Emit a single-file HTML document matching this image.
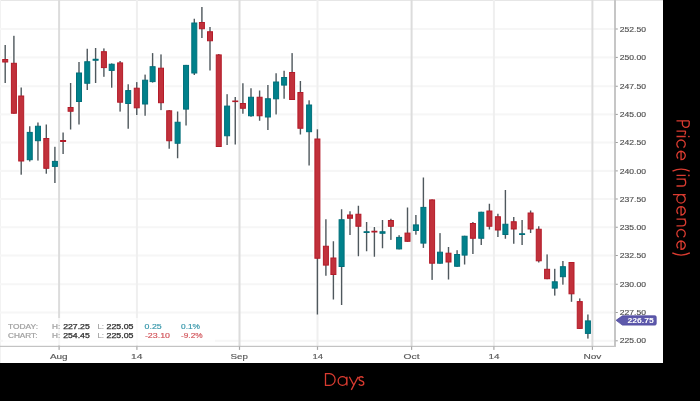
<!DOCTYPE html><html><head><meta charset="utf-8"><style>html,body{margin:0;padding:0;background:#000;width:700px;height:401px;overflow:hidden}svg{display:block;will-change:transform;font-family:"Liberation Sans",sans-serif}</style></head><body>
<svg width="700" height="401" viewBox="0 0 700 401">
<rect x="0" y="0" width="700" height="401" fill="#000"/>
<rect x="0" y="0" width="663" height="363" fill="#fff"/>
<rect x="0" y="0" width="663" height="1" fill="#e6e6e6"/>
<rect x="0" y="0" width="1" height="363" fill="#f2f2f2"/>
<rect x="0" y="339.80" width="614" height="2" fill="#f6f6f6"/>
<rect x="0" y="311.50" width="614" height="2" fill="#f6f6f6"/>
<rect x="0" y="283.25" width="614" height="2" fill="#f6f6f6"/>
<rect x="0" y="254.50" width="614" height="2" fill="#f6f6f6"/>
<rect x="0" y="226.25" width="614" height="2" fill="#f6f6f6"/>
<rect x="0" y="198.00" width="614" height="2" fill="#f6f6f6"/>
<rect x="0" y="169.90" width="614" height="2" fill="#f6f6f6"/>
<rect x="0" y="141.50" width="614" height="2" fill="#f6f6f6"/>
<rect x="0" y="113.40" width="614" height="2" fill="#f6f6f6"/>
<rect x="0" y="85.25" width="614" height="2" fill="#f6f6f6"/>
<rect x="0" y="56.40" width="614" height="2" fill="#f6f6f6"/>
<rect x="0" y="28.00" width="614" height="2" fill="#f6f6f6"/>
<rect x="3.50" y="44.00" width="3.4" height="40.00" fill="#fff"/>
<rect x="1.20" y="58.00" width="8.00" height="5.50" fill="#fff"/>
<rect x="12.20" y="34.80" width="3.4" height="79.95" fill="#fff"/>
<rect x="9.90" y="61.80" width="8.00" height="52.95" fill="#fff"/>
<rect x="19.50" y="86.50" width="3.4" height="89.20" fill="#fff"/>
<rect x="17.20" y="94.50" width="8.00" height="68.00" fill="#fff"/>
<rect x="28.05" y="125.25" width="3.4" height="37.25" fill="#fff"/>
<rect x="25.75" y="130.90" width="8.00" height="30.30" fill="#fff"/>
<rect x="36.25" y="121.50" width="3.4" height="40.10" fill="#fff"/>
<rect x="33.95" y="124.75" width="8.00" height="17.45" fill="#fff"/>
<rect x="44.60" y="123.50" width="3.4" height="51.20" fill="#fff"/>
<rect x="42.30" y="137.00" width="8.00" height="32.80" fill="#fff"/>
<rect x="53.20" y="145.80" width="3.4" height="38.20" fill="#fff"/>
<rect x="50.90" y="159.90" width="8.00" height="8.00" fill="#fff"/>
<rect x="61.40" y="131.50" width="3.4" height="23.50" fill="#fff"/>
<rect x="59.10" y="139.00" width="8.00" height="4.00" fill="#fff"/>
<rect x="68.90" y="82.00" width="3.4" height="48.50" fill="#fff"/>
<rect x="66.60" y="106.00" width="8.00" height="6.75" fill="#fff"/>
<rect x="77.30" y="61.00" width="3.4" height="64.50" fill="#fff"/>
<rect x="75.00" y="71.50" width="8.00" height="31.50" fill="#fff"/>
<rect x="85.55" y="47.75" width="3.4" height="43.25" fill="#fff"/>
<rect x="83.25" y="60.25" width="8.00" height="24.50" fill="#fff"/>
<rect x="93.90" y="47.00" width="3.4" height="37.00" fill="#fff"/>
<rect x="91.60" y="57.75" width="8.00" height="4.00" fill="#fff"/>
<rect x="102.20" y="47.40" width="3.4" height="30.40" fill="#fff"/>
<rect x="99.90" y="50.20" width="8.00" height="18.90" fill="#fff"/>
<rect x="110.00" y="62.40" width="3.4" height="26.30" fill="#fff"/>
<rect x="107.70" y="62.75" width="8.00" height="9.15" fill="#fff"/>
<rect x="118.40" y="60.00" width="3.4" height="52.60" fill="#fff"/>
<rect x="116.10" y="61.40" width="8.00" height="42.30" fill="#fff"/>
<rect x="126.50" y="83.30" width="3.4" height="46.45" fill="#fff"/>
<rect x="124.20" y="89.10" width="8.00" height="15.90" fill="#fff"/>
<rect x="135.05" y="81.10" width="3.4" height="34.90" fill="#fff"/>
<rect x="132.75" y="86.70" width="8.00" height="22.60" fill="#fff"/>
<rect x="143.40" y="73.60" width="3.4" height="43.15" fill="#fff"/>
<rect x="141.10" y="78.70" width="8.00" height="26.80" fill="#fff"/>
<rect x="150.90" y="52.10" width="3.4" height="31.50" fill="#fff"/>
<rect x="148.60" y="65.20" width="8.00" height="17.90" fill="#fff"/>
<rect x="159.30" y="53.40" width="3.4" height="57.70" fill="#fff"/>
<rect x="157.00" y="66.70" width="8.00" height="37.50" fill="#fff"/>
<rect x="167.50" y="109.00" width="3.4" height="40.75" fill="#fff"/>
<rect x="165.20" y="109.30" width="8.00" height="32.95" fill="#fff"/>
<rect x="175.90" y="110.50" width="3.4" height="48.75" fill="#fff"/>
<rect x="173.60" y="120.75" width="8.00" height="24.00" fill="#fff"/>
<rect x="184.35" y="63.90" width="3.4" height="62.60" fill="#fff"/>
<rect x="182.05" y="63.90" width="8.00" height="46.70" fill="#fff"/>
<rect x="192.60" y="17.75" width="3.4" height="58.25" fill="#fff"/>
<rect x="190.30" y="21.50" width="8.00" height="53.00" fill="#fff"/>
<rect x="200.20" y="6.00" width="3.4" height="33.00" fill="#fff"/>
<rect x="197.90" y="21.00" width="8.00" height="9.25" fill="#fff"/>
<rect x="208.30" y="26.00" width="3.4" height="45.50" fill="#fff"/>
<rect x="206.00" y="30.25" width="8.00" height="12.00" fill="#fff"/>
<rect x="217.05" y="53.00" width="3.4" height="95.00" fill="#fff"/>
<rect x="214.75" y="53.40" width="8.00" height="94.60" fill="#fff"/>
<rect x="225.40" y="93.20" width="3.4" height="52.80" fill="#fff"/>
<rect x="223.10" y="104.60" width="8.00" height="32.65" fill="#fff"/>
<rect x="233.55" y="96.00" width="3.4" height="49.50" fill="#fff"/>
<rect x="231.25" y="99.50" width="8.00" height="3.60" fill="#fff"/>
<rect x="241.20" y="82.25" width="3.4" height="32.50" fill="#fff"/>
<rect x="238.90" y="102.00" width="8.00" height="7.75" fill="#fff"/>
<rect x="249.30" y="87.25" width="3.4" height="30.50" fill="#fff"/>
<rect x="247.00" y="95.75" width="8.00" height="21.50" fill="#fff"/>
<rect x="257.90" y="89.50" width="3.4" height="32.25" fill="#fff"/>
<rect x="255.60" y="95.75" width="8.00" height="21.50" fill="#fff"/>
<rect x="266.20" y="84.00" width="3.4" height="47.00" fill="#fff"/>
<rect x="263.90" y="97.25" width="8.00" height="21.25" fill="#fff"/>
<rect x="274.40" y="72.25" width="3.4" height="43.25" fill="#fff"/>
<rect x="272.10" y="80.50" width="8.00" height="19.80" fill="#fff"/>
<rect x="282.40" y="69.75" width="3.4" height="30.00" fill="#fff"/>
<rect x="280.10" y="76.00" width="8.00" height="10.60" fill="#fff"/>
<rect x="290.40" y="52.10" width="3.4" height="48.90" fill="#fff"/>
<rect x="288.10" y="71.00" width="8.00" height="30.00" fill="#fff"/>
<rect x="298.70" y="80.00" width="3.4" height="55.50" fill="#fff"/>
<rect x="296.40" y="91.00" width="8.00" height="38.75" fill="#fff"/>
<rect x="307.40" y="99.30" width="3.4" height="67.20" fill="#fff"/>
<rect x="305.10" y="103.50" width="8.00" height="29.70" fill="#fff"/>
<rect x="315.70" y="128.30" width="3.4" height="187.20" fill="#fff"/>
<rect x="313.40" y="137.50" width="8.00" height="122.25" fill="#fff"/>
<rect x="324.20" y="218.25" width="3.4" height="58.50" fill="#fff"/>
<rect x="321.90" y="244.75" width="8.00" height="21.85" fill="#fff"/>
<rect x="331.70" y="240.25" width="3.4" height="60.25" fill="#fff"/>
<rect x="329.40" y="256.50" width="8.00" height="19.50" fill="#fff"/>
<rect x="339.90" y="208.25" width="3.4" height="97.75" fill="#fff"/>
<rect x="337.60" y="218.25" width="8.00" height="49.75" fill="#fff"/>
<rect x="348.30" y="210.25" width="3.4" height="25.75" fill="#fff"/>
<rect x="346.00" y="213.50" width="8.00" height="6.25" fill="#fff"/>
<rect x="356.70" y="204.75" width="3.4" height="52.50" fill="#fff"/>
<rect x="354.40" y="212.75" width="8.00" height="15.00" fill="#fff"/>
<rect x="364.90" y="221.00" width="3.4" height="31.25" fill="#fff"/>
<rect x="362.60" y="230.25" width="8.00" height="3.75" fill="#fff"/>
<rect x="372.70" y="226.00" width="3.4" height="31.75" fill="#fff"/>
<rect x="370.40" y="229.75" width="8.00" height="3.75" fill="#fff"/>
<rect x="380.80" y="219.00" width="3.4" height="30.25" fill="#fff"/>
<rect x="378.50" y="230.25" width="8.00" height="4.50" fill="#fff"/>
<rect x="389.20" y="217.75" width="3.4" height="23.15" fill="#fff"/>
<rect x="386.90" y="219.00" width="8.00" height="8.80" fill="#fff"/>
<rect x="397.40" y="234.20" width="3.4" height="16.20" fill="#fff"/>
<rect x="395.10" y="235.90" width="8.00" height="14.50" fill="#fff"/>
<rect x="405.80" y="206.50" width="3.4" height="36.30" fill="#fff"/>
<rect x="403.50" y="231.60" width="8.00" height="11.20" fill="#fff"/>
<rect x="414.20" y="214.00" width="3.4" height="21.70" fill="#fff"/>
<rect x="411.90" y="223.40" width="8.00" height="8.60" fill="#fff"/>
<rect x="421.70" y="176.50" width="3.4" height="72.40" fill="#fff"/>
<rect x="419.40" y="205.90" width="8.00" height="38.70" fill="#fff"/>
<rect x="430.40" y="198.40" width="3.4" height="82.50" fill="#fff"/>
<rect x="428.10" y="198.40" width="8.00" height="66.30" fill="#fff"/>
<rect x="438.30" y="232.10" width="3.4" height="32.60" fill="#fff"/>
<rect x="436.00" y="250.70" width="8.00" height="14.00" fill="#fff"/>
<rect x="446.80" y="246.00" width="3.4" height="34.50" fill="#fff"/>
<rect x="444.50" y="251.70" width="8.00" height="11.80" fill="#fff"/>
<rect x="455.40" y="249.20" width="3.4" height="18.55" fill="#fff"/>
<rect x="453.10" y="253.00" width="8.00" height="14.75" fill="#fff"/>
<rect x="462.90" y="234.75" width="3.4" height="30.75" fill="#fff"/>
<rect x="460.60" y="234.75" width="8.00" height="21.85" fill="#fff"/>
<rect x="471.20" y="221.00" width="3.4" height="34.00" fill="#fff"/>
<rect x="468.90" y="222.00" width="8.00" height="17.75" fill="#fff"/>
<rect x="479.55" y="210.75" width="3.4" height="35.25" fill="#fff"/>
<rect x="477.25" y="210.75" width="8.00" height="29.00" fill="#fff"/>
<rect x="487.70" y="202.75" width="3.4" height="27.75" fill="#fff"/>
<rect x="485.40" y="209.50" width="8.00" height="18.25" fill="#fff"/>
<rect x="496.20" y="212.75" width="3.4" height="25.25" fill="#fff"/>
<rect x="493.90" y="215.25" width="8.00" height="16.25" fill="#fff"/>
<rect x="503.70" y="189.00" width="3.4" height="50.75" fill="#fff"/>
<rect x="501.40" y="222.75" width="8.00" height="13.25" fill="#fff"/>
<rect x="512.05" y="216.00" width="3.4" height="28.75" fill="#fff"/>
<rect x="509.75" y="220.25" width="8.00" height="10.25" fill="#fff"/>
<rect x="520.40" y="219.00" width="3.4" height="27.00" fill="#fff"/>
<rect x="518.10" y="232.25" width="8.00" height="3.75" fill="#fff"/>
<rect x="528.90" y="209.50" width="3.4" height="24.50" fill="#fff"/>
<rect x="526.60" y="211.50" width="8.00" height="19.00" fill="#fff"/>
<rect x="537.05" y="225.25" width="3.4" height="38.25" fill="#fff"/>
<rect x="534.75" y="227.75" width="8.00" height="34.55" fill="#fff"/>
<rect x="545.40" y="253.40" width="3.4" height="26.80" fill="#fff"/>
<rect x="543.10" y="267.80" width="8.00" height="12.40" fill="#fff"/>
<rect x="553.05" y="267.80" width="3.4" height="28.80" fill="#fff"/>
<rect x="550.75" y="280.30" width="8.00" height="9.30" fill="#fff"/>
<rect x="561.20" y="260.00" width="3.4" height="25.70" fill="#fff"/>
<rect x="558.90" y="265.20" width="8.00" height="13.00" fill="#fff"/>
<rect x="569.80" y="261.00" width="3.4" height="41.80" fill="#fff"/>
<rect x="567.50" y="261.00" width="8.00" height="34.30" fill="#fff"/>
<rect x="578.05" y="297.40" width="3.4" height="32.50" fill="#fff"/>
<rect x="575.75" y="300.10" width="8.00" height="29.80" fill="#fff"/>
<rect x="586.20" y="313.50" width="3.4" height="26.10" fill="#fff"/>
<rect x="583.90" y="319.40" width="8.00" height="15.50" fill="#fff"/>
<rect x="58.10" y="0" width="2" height="346" fill="#dcdcdc"/>
<rect x="135.90" y="0" width="2" height="346" fill="#efefef"/>
<rect x="238.50" y="0" width="2" height="346" fill="#dcdcdc"/>
<rect x="316.50" y="0" width="2" height="346" fill="#efefef"/>
<rect x="410.60" y="0" width="2" height="346" fill="#dcdcdc"/>
<rect x="492.90" y="0" width="2" height="346" fill="#efefef"/>
<rect x="591.40" y="0" width="2" height="346" fill="#dcdcdc"/>
<rect x="3" y="318" width="212" height="27" fill="#fff" fill-opacity="0.75"/>
<rect x="0" y="345.8" width="615.6" height="1.1" fill="#bdbdbd"/>
<rect x="614" y="0" width="2" height="346.9" fill="#c6c6c6"/>
<rect x="58.50" y="346.5" width="1.2" height="3.4" fill="#a9a9a9"/>
<rect x="136.30" y="346.5" width="1.2" height="3.4" fill="#a9a9a9"/>
<rect x="238.90" y="346.5" width="1.2" height="3.4" fill="#a9a9a9"/>
<rect x="316.90" y="346.5" width="1.2" height="3.4" fill="#a9a9a9"/>
<rect x="411.00" y="346.5" width="1.2" height="3.4" fill="#a9a9a9"/>
<rect x="493.30" y="346.5" width="1.2" height="3.4" fill="#a9a9a9"/>
<rect x="591.80" y="346.5" width="1.2" height="3.4" fill="#a9a9a9"/>
<rect x="4.50" y="45.00" width="1.4" height="38.00" fill="#4f585d"/>
<rect x="2.70" y="59.50" width="5.00" height="2.50" fill="#c1313b" stroke="#b31b29" stroke-width="1"/>
<rect x="13.20" y="35.80" width="1.4" height="77.95" fill="#4f585d"/>
<rect x="11.40" y="63.30" width="5.00" height="49.95" fill="#c1313b" stroke="#b31b29" stroke-width="1"/>
<rect x="20.50" y="87.50" width="1.4" height="87.20" fill="#4f585d"/>
<rect x="18.70" y="96.00" width="5.00" height="65.00" fill="#c1313b" stroke="#b31b29" stroke-width="1"/>
<rect x="29.05" y="126.25" width="1.4" height="35.25" fill="#4f585d"/>
<rect x="27.25" y="132.40" width="5.00" height="27.30" fill="#00818b" stroke="#006f7a" stroke-width="1"/>
<rect x="37.25" y="122.50" width="1.4" height="38.10" fill="#4f585d"/>
<rect x="35.45" y="126.25" width="5.00" height="14.45" fill="#00818b" stroke="#006f7a" stroke-width="1"/>
<rect x="45.60" y="124.50" width="1.4" height="49.20" fill="#4f585d"/>
<rect x="43.80" y="138.50" width="5.00" height="29.80" fill="#c1313b" stroke="#b31b29" stroke-width="1"/>
<rect x="54.20" y="146.80" width="1.4" height="36.20" fill="#4f585d"/>
<rect x="52.40" y="161.40" width="5.00" height="5.00" fill="#00818b" stroke="#006f7a" stroke-width="1"/>
<rect x="62.40" y="132.50" width="1.4" height="21.50" fill="#4f585d"/>
<rect x="60.60" y="140.50" width="5.00" height="1.00" fill="#c1313b" stroke="#b31b29" stroke-width="1"/>
<rect x="69.90" y="83.00" width="1.4" height="46.50" fill="#4f585d"/>
<rect x="68.10" y="107.50" width="5.00" height="3.75" fill="#c1313b" stroke="#b31b29" stroke-width="1"/>
<rect x="78.30" y="62.00" width="1.4" height="62.50" fill="#4f585d"/>
<rect x="76.50" y="73.00" width="5.00" height="28.50" fill="#00818b" stroke="#006f7a" stroke-width="1"/>
<rect x="86.55" y="48.75" width="1.4" height="41.25" fill="#4f585d"/>
<rect x="84.75" y="61.75" width="5.00" height="21.50" fill="#00818b" stroke="#006f7a" stroke-width="1"/>
<rect x="94.90" y="48.00" width="1.4" height="35.00" fill="#4f585d"/>
<rect x="93.10" y="59.25" width="5.00" height="1.00" fill="#00818b" stroke="#006f7a" stroke-width="1"/>
<rect x="103.20" y="48.40" width="1.4" height="28.40" fill="#4f585d"/>
<rect x="101.40" y="51.70" width="5.00" height="15.90" fill="#c1313b" stroke="#b31b29" stroke-width="1"/>
<rect x="111.00" y="63.40" width="1.4" height="24.30" fill="#4f585d"/>
<rect x="109.20" y="64.25" width="5.00" height="6.15" fill="#00818b" stroke="#006f7a" stroke-width="1"/>
<rect x="119.40" y="61.00" width="1.4" height="50.60" fill="#4f585d"/>
<rect x="117.60" y="62.90" width="5.00" height="39.30" fill="#c1313b" stroke="#b31b29" stroke-width="1"/>
<rect x="127.50" y="84.30" width="1.4" height="44.45" fill="#4f585d"/>
<rect x="125.70" y="90.60" width="5.00" height="12.90" fill="#00818b" stroke="#006f7a" stroke-width="1"/>
<rect x="136.05" y="82.10" width="1.4" height="32.90" fill="#4f585d"/>
<rect x="134.25" y="88.20" width="5.00" height="19.60" fill="#c1313b" stroke="#b31b29" stroke-width="1"/>
<rect x="144.40" y="74.60" width="1.4" height="41.15" fill="#4f585d"/>
<rect x="142.60" y="80.20" width="5.00" height="23.80" fill="#00818b" stroke="#006f7a" stroke-width="1"/>
<rect x="151.90" y="53.10" width="1.4" height="29.50" fill="#4f585d"/>
<rect x="150.10" y="66.70" width="5.00" height="14.90" fill="#00818b" stroke="#006f7a" stroke-width="1"/>
<rect x="160.30" y="54.40" width="1.4" height="55.70" fill="#4f585d"/>
<rect x="158.50" y="68.20" width="5.00" height="34.50" fill="#c1313b" stroke="#b31b29" stroke-width="1"/>
<rect x="168.50" y="110.00" width="1.4" height="38.75" fill="#4f585d"/>
<rect x="166.70" y="110.80" width="5.00" height="29.95" fill="#c1313b" stroke="#b31b29" stroke-width="1"/>
<rect x="176.90" y="111.50" width="1.4" height="46.75" fill="#4f585d"/>
<rect x="175.10" y="122.25" width="5.00" height="21.00" fill="#00818b" stroke="#006f7a" stroke-width="1"/>
<rect x="185.35" y="64.90" width="1.4" height="60.60" fill="#4f585d"/>
<rect x="183.55" y="65.40" width="5.00" height="43.70" fill="#00818b" stroke="#006f7a" stroke-width="1"/>
<rect x="193.60" y="18.75" width="1.4" height="56.25" fill="#4f585d"/>
<rect x="191.80" y="23.00" width="5.00" height="50.00" fill="#00818b" stroke="#006f7a" stroke-width="1"/>
<rect x="201.20" y="7.00" width="1.4" height="31.00" fill="#4f585d"/>
<rect x="199.40" y="22.50" width="5.00" height="6.25" fill="#c1313b" stroke="#b31b29" stroke-width="1"/>
<rect x="209.30" y="27.00" width="1.4" height="43.50" fill="#4f585d"/>
<rect x="207.50" y="31.75" width="5.00" height="9.00" fill="#c1313b" stroke="#b31b29" stroke-width="1"/>
<rect x="218.05" y="54.00" width="1.4" height="93.00" fill="#4f585d"/>
<rect x="216.25" y="54.90" width="5.00" height="91.60" fill="#c1313b" stroke="#b31b29" stroke-width="1"/>
<rect x="226.40" y="94.20" width="1.4" height="50.80" fill="#4f585d"/>
<rect x="224.60" y="106.10" width="5.00" height="29.65" fill="#00818b" stroke="#006f7a" stroke-width="1"/>
<rect x="234.55" y="97.00" width="1.4" height="47.50" fill="#4f585d"/>
<rect x="232.75" y="101.00" width="5.00" height="0.60" fill="#c1313b" stroke="#b31b29" stroke-width="1"/>
<rect x="242.20" y="83.25" width="1.4" height="30.50" fill="#4f585d"/>
<rect x="240.40" y="103.50" width="5.00" height="4.75" fill="#c1313b" stroke="#b31b29" stroke-width="1"/>
<rect x="250.30" y="88.25" width="1.4" height="28.50" fill="#4f585d"/>
<rect x="248.50" y="97.25" width="5.00" height="18.50" fill="#00818b" stroke="#006f7a" stroke-width="1"/>
<rect x="258.90" y="90.50" width="1.4" height="30.25" fill="#4f585d"/>
<rect x="257.10" y="97.25" width="5.00" height="18.50" fill="#c1313b" stroke="#b31b29" stroke-width="1"/>
<rect x="267.20" y="85.00" width="1.4" height="45.00" fill="#4f585d"/>
<rect x="265.40" y="98.75" width="5.00" height="18.25" fill="#00818b" stroke="#006f7a" stroke-width="1"/>
<rect x="275.40" y="73.25" width="1.4" height="41.25" fill="#4f585d"/>
<rect x="273.60" y="82.00" width="5.00" height="16.80" fill="#00818b" stroke="#006f7a" stroke-width="1"/>
<rect x="283.40" y="70.75" width="1.4" height="28.00" fill="#4f585d"/>
<rect x="281.60" y="77.50" width="5.00" height="7.60" fill="#00818b" stroke="#006f7a" stroke-width="1"/>
<rect x="291.40" y="53.10" width="1.4" height="46.90" fill="#4f585d"/>
<rect x="289.60" y="72.50" width="5.00" height="27.00" fill="#c1313b" stroke="#b31b29" stroke-width="1"/>
<rect x="299.70" y="81.00" width="1.4" height="53.50" fill="#4f585d"/>
<rect x="297.90" y="92.50" width="5.00" height="35.75" fill="#c1313b" stroke="#b31b29" stroke-width="1"/>
<rect x="308.40" y="100.30" width="1.4" height="65.20" fill="#4f585d"/>
<rect x="306.60" y="105.00" width="5.00" height="26.70" fill="#00818b" stroke="#006f7a" stroke-width="1"/>
<rect x="316.70" y="129.30" width="1.4" height="185.20" fill="#4f585d"/>
<rect x="314.90" y="139.00" width="5.00" height="119.25" fill="#c1313b" stroke="#b31b29" stroke-width="1"/>
<rect x="325.20" y="219.25" width="1.4" height="56.50" fill="#4f585d"/>
<rect x="323.40" y="246.25" width="5.00" height="18.85" fill="#c1313b" stroke="#b31b29" stroke-width="1"/>
<rect x="332.70" y="241.25" width="1.4" height="58.25" fill="#4f585d"/>
<rect x="330.90" y="258.00" width="5.00" height="16.50" fill="#c1313b" stroke="#b31b29" stroke-width="1"/>
<rect x="340.90" y="209.25" width="1.4" height="95.75" fill="#4f585d"/>
<rect x="339.10" y="219.75" width="5.00" height="46.75" fill="#00818b" stroke="#006f7a" stroke-width="1"/>
<rect x="349.30" y="211.25" width="1.4" height="23.75" fill="#4f585d"/>
<rect x="347.50" y="215.00" width="5.00" height="3.25" fill="#c1313b" stroke="#b31b29" stroke-width="1"/>
<rect x="357.70" y="205.75" width="1.4" height="50.50" fill="#4f585d"/>
<rect x="355.90" y="214.25" width="5.00" height="12.00" fill="#c1313b" stroke="#b31b29" stroke-width="1"/>
<rect x="365.90" y="222.00" width="1.4" height="29.25" fill="#4f585d"/>
<rect x="364.10" y="231.75" width="5.00" height="0.75" fill="#00818b" stroke="#006f7a" stroke-width="1"/>
<rect x="373.70" y="227.00" width="1.4" height="29.75" fill="#4f585d"/>
<rect x="371.90" y="231.25" width="5.00" height="0.75" fill="#c1313b" stroke="#b31b29" stroke-width="1"/>
<rect x="381.80" y="220.00" width="1.4" height="28.25" fill="#4f585d"/>
<rect x="380.00" y="231.75" width="5.00" height="1.50" fill="#00818b" stroke="#006f7a" stroke-width="1"/>
<rect x="390.20" y="218.75" width="1.4" height="21.15" fill="#4f585d"/>
<rect x="388.40" y="220.50" width="5.00" height="5.80" fill="#c1313b" stroke="#b31b29" stroke-width="1"/>
<rect x="398.40" y="235.20" width="1.4" height="14.20" fill="#4f585d"/>
<rect x="396.60" y="237.40" width="5.00" height="11.50" fill="#00818b" stroke="#006f7a" stroke-width="1"/>
<rect x="406.80" y="207.50" width="1.4" height="34.30" fill="#4f585d"/>
<rect x="405.00" y="233.10" width="5.00" height="8.20" fill="#c1313b" stroke="#b31b29" stroke-width="1"/>
<rect x="415.20" y="215.00" width="1.4" height="19.70" fill="#4f585d"/>
<rect x="413.40" y="224.90" width="5.00" height="5.60" fill="#00818b" stroke="#006f7a" stroke-width="1"/>
<rect x="422.70" y="177.50" width="1.4" height="70.40" fill="#4f585d"/>
<rect x="420.90" y="207.40" width="5.00" height="35.70" fill="#00818b" stroke="#006f7a" stroke-width="1"/>
<rect x="431.40" y="199.40" width="1.4" height="80.50" fill="#4f585d"/>
<rect x="429.60" y="199.90" width="5.00" height="63.30" fill="#c1313b" stroke="#b31b29" stroke-width="1"/>
<rect x="439.30" y="233.10" width="1.4" height="30.60" fill="#4f585d"/>
<rect x="437.50" y="252.20" width="5.00" height="11.00" fill="#00818b" stroke="#006f7a" stroke-width="1"/>
<rect x="447.80" y="247.00" width="1.4" height="32.50" fill="#4f585d"/>
<rect x="446.00" y="253.20" width="5.00" height="8.80" fill="#c1313b" stroke="#b31b29" stroke-width="1"/>
<rect x="456.40" y="250.20" width="1.4" height="16.55" fill="#4f585d"/>
<rect x="454.60" y="254.50" width="5.00" height="11.75" fill="#00818b" stroke="#006f7a" stroke-width="1"/>
<rect x="463.90" y="235.75" width="1.4" height="28.75" fill="#4f585d"/>
<rect x="462.10" y="236.25" width="5.00" height="18.85" fill="#00818b" stroke="#006f7a" stroke-width="1"/>
<rect x="472.20" y="222.00" width="1.4" height="32.00" fill="#4f585d"/>
<rect x="470.40" y="223.50" width="5.00" height="14.75" fill="#c1313b" stroke="#b31b29" stroke-width="1"/>
<rect x="480.55" y="211.75" width="1.4" height="33.25" fill="#4f585d"/>
<rect x="478.75" y="212.25" width="5.00" height="26.00" fill="#00818b" stroke="#006f7a" stroke-width="1"/>
<rect x="488.70" y="203.75" width="1.4" height="25.75" fill="#4f585d"/>
<rect x="486.90" y="211.00" width="5.00" height="15.25" fill="#c1313b" stroke="#b31b29" stroke-width="1"/>
<rect x="497.20" y="213.75" width="1.4" height="23.25" fill="#4f585d"/>
<rect x="495.40" y="216.75" width="5.00" height="13.25" fill="#c1313b" stroke="#b31b29" stroke-width="1"/>
<rect x="504.70" y="190.00" width="1.4" height="48.75" fill="#4f585d"/>
<rect x="502.90" y="224.25" width="5.00" height="10.25" fill="#00818b" stroke="#006f7a" stroke-width="1"/>
<rect x="513.05" y="217.00" width="1.4" height="26.75" fill="#4f585d"/>
<rect x="511.25" y="221.75" width="5.00" height="7.25" fill="#c1313b" stroke="#b31b29" stroke-width="1"/>
<rect x="521.40" y="220.00" width="1.4" height="25.00" fill="#4f585d"/>
<rect x="519.60" y="233.75" width="5.00" height="0.75" fill="#00818b" stroke="#006f7a" stroke-width="1"/>
<rect x="529.90" y="210.50" width="1.4" height="22.50" fill="#4f585d"/>
<rect x="528.10" y="213.00" width="5.00" height="16.00" fill="#c1313b" stroke="#b31b29" stroke-width="1"/>
<rect x="538.05" y="226.25" width="1.4" height="36.25" fill="#4f585d"/>
<rect x="536.25" y="229.25" width="5.00" height="31.55" fill="#c1313b" stroke="#b31b29" stroke-width="1"/>
<rect x="546.40" y="254.40" width="1.4" height="24.80" fill="#4f585d"/>
<rect x="544.60" y="269.30" width="5.00" height="9.40" fill="#c1313b" stroke="#b31b29" stroke-width="1"/>
<rect x="554.05" y="268.80" width="1.4" height="26.80" fill="#4f585d"/>
<rect x="552.25" y="281.80" width="5.00" height="6.30" fill="#00818b" stroke="#006f7a" stroke-width="1"/>
<rect x="562.20" y="261.00" width="1.4" height="23.70" fill="#4f585d"/>
<rect x="560.40" y="266.70" width="5.00" height="10.00" fill="#00818b" stroke="#006f7a" stroke-width="1"/>
<rect x="570.80" y="262.00" width="1.4" height="39.80" fill="#4f585d"/>
<rect x="569.00" y="262.50" width="5.00" height="31.30" fill="#c1313b" stroke="#b31b29" stroke-width="1"/>
<rect x="579.05" y="298.40" width="1.4" height="30.50" fill="#4f585d"/>
<rect x="577.25" y="301.60" width="5.00" height="26.80" fill="#c1313b" stroke="#b31b29" stroke-width="1"/>
<rect x="587.20" y="314.50" width="1.4" height="24.10" fill="#4f585d"/>
<rect x="585.40" y="320.90" width="5.00" height="12.50" fill="#00818b" stroke="#006f7a" stroke-width="1"/>
<rect x="615.6" y="340.30" width="2.2" height="1" fill="#9d9d9d"/>
<text x="619.8" y="343.40" font-size="6.8" fill="#505050" stroke="#505050" stroke-width="0.15" textLength="26.2" lengthAdjust="spacingAndGlyphs">225.00</text>
<rect x="615.6" y="312.00" width="2.2" height="1" fill="#9d9d9d"/>
<text x="619.8" y="315.10" font-size="6.8" fill="#505050" stroke="#505050" stroke-width="0.15" textLength="26.2" lengthAdjust="spacingAndGlyphs">227.50</text>
<rect x="615.6" y="283.75" width="2.2" height="1" fill="#9d9d9d"/>
<text x="619.8" y="286.85" font-size="6.8" fill="#505050" stroke="#505050" stroke-width="0.15" textLength="26.2" lengthAdjust="spacingAndGlyphs">230.00</text>
<rect x="615.6" y="255.00" width="2.2" height="1" fill="#9d9d9d"/>
<text x="619.8" y="258.10" font-size="6.8" fill="#505050" stroke="#505050" stroke-width="0.15" textLength="26.2" lengthAdjust="spacingAndGlyphs">232.50</text>
<rect x="615.6" y="226.75" width="2.2" height="1" fill="#9d9d9d"/>
<text x="619.8" y="229.85" font-size="6.8" fill="#505050" stroke="#505050" stroke-width="0.15" textLength="26.2" lengthAdjust="spacingAndGlyphs">235.00</text>
<rect x="615.6" y="198.50" width="2.2" height="1" fill="#9d9d9d"/>
<text x="619.8" y="201.60" font-size="6.8" fill="#505050" stroke="#505050" stroke-width="0.15" textLength="26.2" lengthAdjust="spacingAndGlyphs">237.50</text>
<rect x="615.6" y="170.40" width="2.2" height="1" fill="#9d9d9d"/>
<text x="619.8" y="173.50" font-size="6.8" fill="#505050" stroke="#505050" stroke-width="0.15" textLength="26.2" lengthAdjust="spacingAndGlyphs">240.00</text>
<rect x="615.6" y="142.00" width="2.2" height="1" fill="#9d9d9d"/>
<text x="619.8" y="145.10" font-size="6.8" fill="#505050" stroke="#505050" stroke-width="0.15" textLength="26.2" lengthAdjust="spacingAndGlyphs">242.50</text>
<rect x="615.6" y="113.90" width="2.2" height="1" fill="#9d9d9d"/>
<text x="619.8" y="117.00" font-size="6.8" fill="#505050" stroke="#505050" stroke-width="0.15" textLength="26.2" lengthAdjust="spacingAndGlyphs">245.00</text>
<rect x="615.6" y="85.75" width="2.2" height="1" fill="#9d9d9d"/>
<text x="619.8" y="88.85" font-size="6.8" fill="#505050" stroke="#505050" stroke-width="0.15" textLength="26.2" lengthAdjust="spacingAndGlyphs">247.50</text>
<rect x="615.6" y="56.90" width="2.2" height="1" fill="#9d9d9d"/>
<text x="619.8" y="60.00" font-size="6.8" fill="#505050" stroke="#505050" stroke-width="0.15" textLength="26.2" lengthAdjust="spacingAndGlyphs">250.00</text>
<rect x="615.6" y="28.50" width="2.2" height="1" fill="#9d9d9d"/>
<text x="619.8" y="31.60" font-size="6.8" fill="#505050" stroke="#505050" stroke-width="0.15" textLength="26.2" lengthAdjust="spacingAndGlyphs">252.50</text>
<text x="49.90" y="359.1" font-size="7.4" fill="#585858" stroke="#585858" stroke-width="0.15" textLength="17.8" lengthAdjust="spacingAndGlyphs">Aug</text>
<text x="131.00" y="359.1" font-size="7.4" fill="#585858" stroke="#585858" stroke-width="0.15" textLength="11.4" lengthAdjust="spacingAndGlyphs">14</text>
<text x="230.60" y="359.1" font-size="7.4" fill="#585858" stroke="#585858" stroke-width="0.15" textLength="17.4" lengthAdjust="spacingAndGlyphs">Sep</text>
<text x="312.40" y="359.1" font-size="7.4" fill="#585858" stroke="#585858" stroke-width="0.15" textLength="10.6" lengthAdjust="spacingAndGlyphs">14</text>
<text x="403.60" y="359.1" font-size="7.4" fill="#585858" stroke="#585858" stroke-width="0.15" textLength="16" lengthAdjust="spacingAndGlyphs">Oct</text>
<text x="488.40" y="359.1" font-size="7.4" fill="#585858" stroke="#585858" stroke-width="0.15" textLength="11" lengthAdjust="spacingAndGlyphs">14</text>
<text x="583.40" y="359.1" font-size="7.4" fill="#585858" stroke="#585858" stroke-width="0.15" textLength="18" lengthAdjust="spacingAndGlyphs">Nov</text>
<text x="8" y="329.3" font-size="6.3" fill="#a0a0a0" stroke="#a0a0a0" stroke-width="0.2" textLength="30.00" lengthAdjust="spacingAndGlyphs">TODAY:</text>
<text x="52" y="329.3" font-size="6.3" fill="#a0a0a0" stroke="#a0a0a0" stroke-width="0.2" textLength="8.20" lengthAdjust="spacingAndGlyphs">H:</text>
<text x="63.2" y="329.3" font-size="6.3" fill="#333333" stroke="#333333" stroke-width="0.25" textLength="26.60" lengthAdjust="spacingAndGlyphs">227.25</text>
<text x="97.5" y="329.3" font-size="6.3" fill="#a0a0a0" stroke="#a0a0a0" stroke-width="0.2" textLength="6.40" lengthAdjust="spacingAndGlyphs">L:</text>
<text x="106.5" y="329.3" font-size="6.3" fill="#333333" stroke="#333333" stroke-width="0.25" textLength="27.00" lengthAdjust="spacingAndGlyphs">225.05</text>
<text x="144.6" y="329.3" font-size="6.3" fill="#3596aa" stroke="#3596aa" stroke-width="0.15" textLength="17.10" lengthAdjust="spacingAndGlyphs">0.25</text>
<text x="181" y="329.3" font-size="6.3" fill="#3596aa" stroke="#3596aa" stroke-width="0.15" textLength="19.00" lengthAdjust="spacingAndGlyphs">0.1%</text>
<text x="8" y="337.7" font-size="6.3" fill="#a0a0a0" stroke="#a0a0a0" stroke-width="0.2" textLength="29.50" lengthAdjust="spacingAndGlyphs">CHART:</text>
<text x="52" y="337.7" font-size="6.3" fill="#a0a0a0" stroke="#a0a0a0" stroke-width="0.2" textLength="8.20" lengthAdjust="spacingAndGlyphs">H:</text>
<text x="63.2" y="337.7" font-size="6.3" fill="#333333" stroke="#333333" stroke-width="0.25" textLength="26.60" lengthAdjust="spacingAndGlyphs">254.45</text>
<text x="97.5" y="337.7" font-size="6.3" fill="#a0a0a0" stroke="#a0a0a0" stroke-width="0.2" textLength="6.40" lengthAdjust="spacingAndGlyphs">L:</text>
<text x="106.5" y="337.7" font-size="6.3" fill="#333333" stroke="#333333" stroke-width="0.25" textLength="27.00" lengthAdjust="spacingAndGlyphs">225.05</text>
<text x="144.9" y="337.7" font-size="6.3" fill="#d2545a" stroke="#d2545a" stroke-width="0.15" textLength="25.10" lengthAdjust="spacingAndGlyphs">-23.10</text>
<text x="181" y="337.7" font-size="6.3" fill="#d2545a" stroke="#d2545a" stroke-width="0.15" textLength="21.60" lengthAdjust="spacingAndGlyphs">-9.2%</text>
<path d="M616.1,320.3 L622.4,315.8 L654.9,315.8 Q656.2,315.8 656.2,317.1 L656.2,323.8 Q656.2,325.1 654.9,325.1 L622.4,325.1 Z" fill="#5d59ab" stroke="#4f4a9e" stroke-width="0.8"/>
<text x="627.5" y="322.8" font-size="6.8" font-weight="bold" fill="#fff" textLength="26.3" lengthAdjust="spacingAndGlyphs">226.75</text>
<path d="M325.5,373.65 H329.6 A5.5,5.85 0 0 1 329.6,385.35 H325.5 Z M346.85,381 A4.35,4.35 0 1 1 338.15,381 A4.35,4.35 0 1 1 346.85,381 Z M346.9,376.7 V385.4 M349.3,376.7 L353.9,385.3 M358.2,376.7 L351.3,389.9 M363.4,377.9 Q362.6,376.75 361.2,376.75 Q359,376.75 359,378.8 Q359,380.3 361.3,380.9 Q363.8,381.5 363.8,383.3 Q363.8,385.4 361.2,385.4 Q359.6,385.4 358.8,384.2" fill="none" stroke="#d93b30" stroke-width="1.3"/>
<path d="M676.5,120.9 H689.2 M689.2,120.9 V123.95 A3.4,3.4 0 0 1 682.40,123.95 V120.9 M676.5,131.1 H685.7 M685.40,131.1 Q685.90,133.6 684.50,134.6 M676.5,136.5 H685.7 M683.46,147.64 A4.2,4.2 0 1 0 678.64,147.64 M681.05,151.30 V159.70 A4.2,4.2 0 1 0 678.08,158.47 M672.5,171.2 A19.5,19.5 0 0 1 689.7,171.2 M676.5,175.45 H685.7 M676.5,179.2 H685.7 M676.5,186.0 H682.30 Q685.7,186.0 685.7,182.40 Q685.7,179.2 683.50,179.2 M672.9,194.7 H685.7 M685.25,198.90 A4.2,4.2 0 1 1 676.85,198.90 A4.2,4.2 0 1 1 685.25,198.90 Z M681.05,206.60 V215.00 A4.2,4.2 0 1 0 678.08,213.77 M676.5,219.1 H685.7 M676.5,225.9 H682.30 Q685.7,225.9 685.7,222.30 Q685.7,219.1 683.50,219.1 M683.46,237.14 A4.2,4.2 0 1 0 678.64,237.14 M681.05,241.00 V249.40 A4.2,4.2 0 1 0 678.08,248.17 M672.3,252.9 A19.5,19.5 0 0 0 689.9,252.9" fill="none" stroke="#d93b30" stroke-width="1.3"/>
<circle cx="688.9" cy="136.5" r="0.85" fill="#d93b30"/>
<circle cx="688.9" cy="175.45" r="0.85" fill="#d93b30"/>
</svg></body></html>
